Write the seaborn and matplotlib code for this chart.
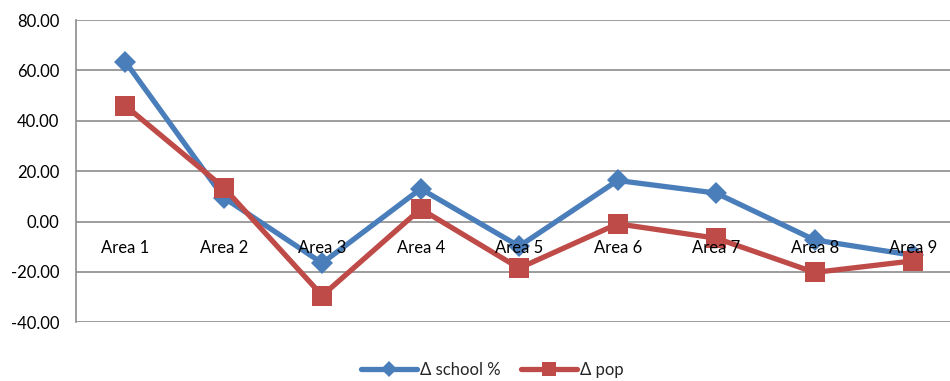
import matplotlib
matplotlib.use("Agg")
import matplotlib.pyplot as plt
import seaborn as sns
import pandas as pd
from matplotlib.ticker import FormatStrFormatter

areas = ["Area 1", "Area 2", "Area 3", "Area 4", "Area 5",
         "Area 6", "Area 7", "Area 8", "Area 9"]
school_change = [63.5, 9.5, -16.5, 13.0, -9.8, 16.3, 11.3, -7.3, -13.4]
pop_change = [46.0, 13.5, -29.4, 5.0, -18.5, -0.9, -6.6, -20.2, -15.6]
series_names = ["\u0394 school %", "\u0394 pop"]
y_ticks = [-40, -20, 0, 20, 40, 60, 80]

df = pd.DataFrame({
    "area": areas * 2,
    "value": school_change + pop_change,
    "series": [series_names[0]] * len(areas) + [series_names[1]] * len(areas),
})
df["x"] = list(range(len(areas))) * 2

sns.set_theme(style="white")
plt.rcParams["font.family"] = ["Lato", "DejaVu Sans"]

fig = plt.figure(figsize=(9.5, 3.81), dpi=100)
ax = fig.add_axes([0.08, 0.154, 0.933, 0.7935])

# horizontal gridlines sit beneath the series
for yv in y_ticks:
    ax.axhline(yv, color="#8C8C8C", linewidth=1.2, zorder=0.5)

palette = {series_names[0]: "#4A7EBB", series_names[1]: "#BE4B48"}
markers = {series_names[0]: "D", series_names[1]: "s"}
sns.lineplot(data=df, x="x", y="value", hue="series", style="series",
             markers=markers, dashes=False, palette=palette, ax=ax,
             linewidth=3.8, markersize=11, markeredgewidth=0, legend=False)
for line in ax.lines:
    if line.get_marker() == "s":
        line.set_markersize(14)

ax.set_xlim(-0.5, len(areas) - 0.5)
ax.set_ylim(-40, 80)
ax.set_yticks(y_ticks)
ax.yaxis.set_major_formatter(FormatStrFormatter("%.2f"))
ax.set_xticks(range(len(areas)))
ax.set_xticklabels(areas)
ax.set_xlabel("")
ax.set_ylabel("")
ax.grid(False)
# category labels are drawn on top of the lines
ax.set_axisbelow(False)

for side in ["top", "right"]:
    ax.spines[side].set_visible(False)
ax.spines["left"].set_color("#8C8C8C")
ax.spines["left"].set_linewidth(1.2)
ax.spines["bottom"].set_position(("data", 0))
ax.spines["bottom"].set_visible(False)

ax.tick_params(axis="x", length=0, pad=13, labelsize=12, colors="black")
ax.tick_params(axis="y", length=0, pad=12, labelsize=12, colors="black")

handles = [
    plt.Line2D([], [], color=palette[series_names[0]], lw=3.8, marker="D",
               markersize=8, markeredgewidth=0),
    plt.Line2D([], [], color=palette[series_names[1]], lw=3.8, marker="s",
               markersize=10, markeredgewidth=0),
]
fig.legend(handles, series_names, loc="center", bbox_to_anchor=(0.518, 0.028),
           ncol=2, frameon=False, fontsize=12, handlelength=3.4,
           handletextpad=0.15, columnspacing=1.2)

fig.savefig("out.png", dpi=100)
